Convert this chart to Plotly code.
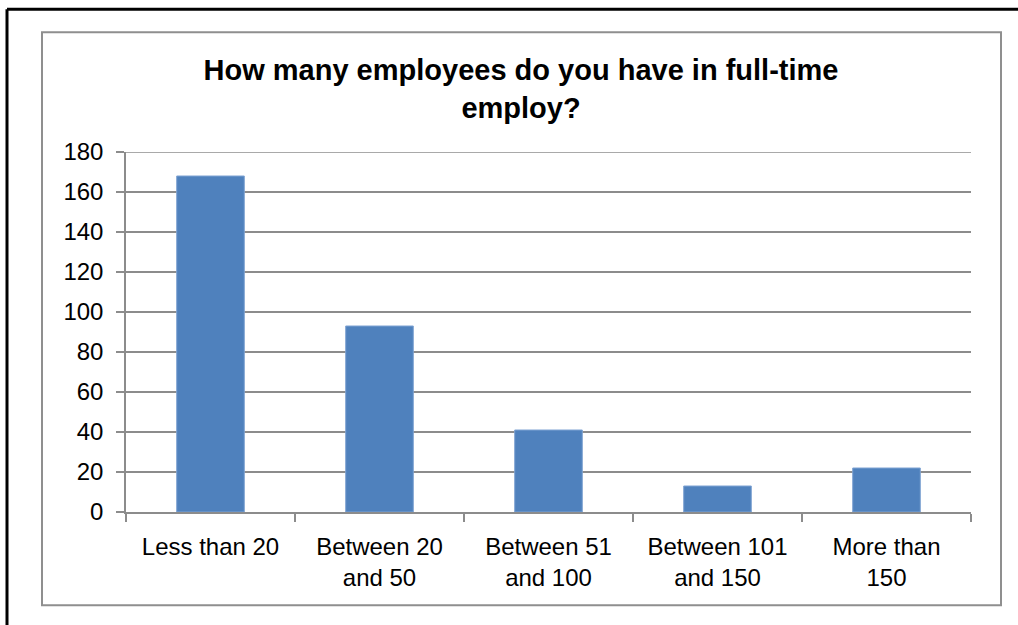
import plotly.graph_objects as go

# Survey responses: number of companies per full-time headcount band
categories = [
    "Less than 20",
    "Between 20<br>and 50",
    "Between 51<br>and 100",
    "Between 101<br>and 150",
    "More than<br>150",
]
counts = [168, 93, 41, 13, 22]
y_ticks = list(range(0, 181, 20))

W, H = 1018, 625
# plot area in pixels
L, R, T, B = 126, 971, 152, 512.5
pw, ph = R - L, B - T


def px_x(x):
    return (x - L) / pw


def px_y(y):
    return (B - y) / ph


GRID = "#8c8c8c"
FONT = "Liberation Sans, Arial, sans-serif"

fig = go.Figure(
    go.Bar(
        x=categories,
        y=counts,
        marker=dict(color="#4F81BD", line=dict(color="#7fa3d3", width=1)),
        width=0.4,
    )
)

fig.update_layout(
    width=W,
    height=H,
    margin=dict(l=L, r=W - R, t=T, b=H - B),
    paper_bgcolor="white",
    plot_bgcolor="white",
    showlegend=False,
    font=dict(family=FONT, color="black"),
    title=dict(
        text="<b>How many employees do you have in full-time<br>employ?</b>",
        x=521 / W,
        xanchor="center",
        xref="container",
        y=1 - 80 / H,
        yanchor="top",
        yref="container",
        font=dict(size=29, family=FONT, color="black"),
    ),
    shapes=[
        # top gridline at the axis maximum
        dict(
            type="line", xref="paper", yref="y",
            x0=0, x1=1, y0=y_ticks[-1], y1=y_ticks[-1],
            line=dict(color=GRID, width=1.5), layer="below",
        ),
        # chart frame
        dict(
            type="rect", xref="paper", yref="paper",
            x0=px_x(42), x1=px_x(1001), y0=px_y(606), y1=px_y(32),
            line=dict(color="#8f8f8f", width=2), layer="below",
        ),
        # outer black border (left and top edges)
        dict(
            type="line", xref="paper", yref="paper",
            x0=px_x(7), x1=px_x(7), y0=px_y(9), y1=px_y(640),
            line=dict(color="black", width=3),
        ),
        dict(
            type="line", xref="paper", yref="paper",
            x0=px_x(7), x1=px_x(1030), y0=px_y(9), y1=px_y(9),
            line=dict(color="black", width=3),
        ),
    ],
)

fig.update_yaxes(
    range=[0, 180],
    tickvals=y_ticks,
    showgrid=True,
    gridcolor=GRID,
    gridwidth=1.5,
    showline=True,
    linecolor=GRID,
    linewidth=1.5,
    ticks="outside",
    ticklen=8,
    tickcolor=GRID,
    tickwidth=1.5,
    ticklabelstandoff=8,
    tickfont=dict(size=24, family=FONT, color="black"),
    zeroline=False,
    fixedrange=True,
)

fig.update_xaxes(
    type="category",
    showgrid=False,
    showline=True,
    linecolor=GRID,
    linewidth=1.5,
    ticks="outside",
    tickson="boundaries",
    ticklen=8,
    tickcolor=GRID,
    tickwidth=1.5,
    tickfont=dict(size=24, family=FONT, color="black"),
    ticklabelstandoff=12,
    fixedrange=True,
)

fig.write_html("out.html")
